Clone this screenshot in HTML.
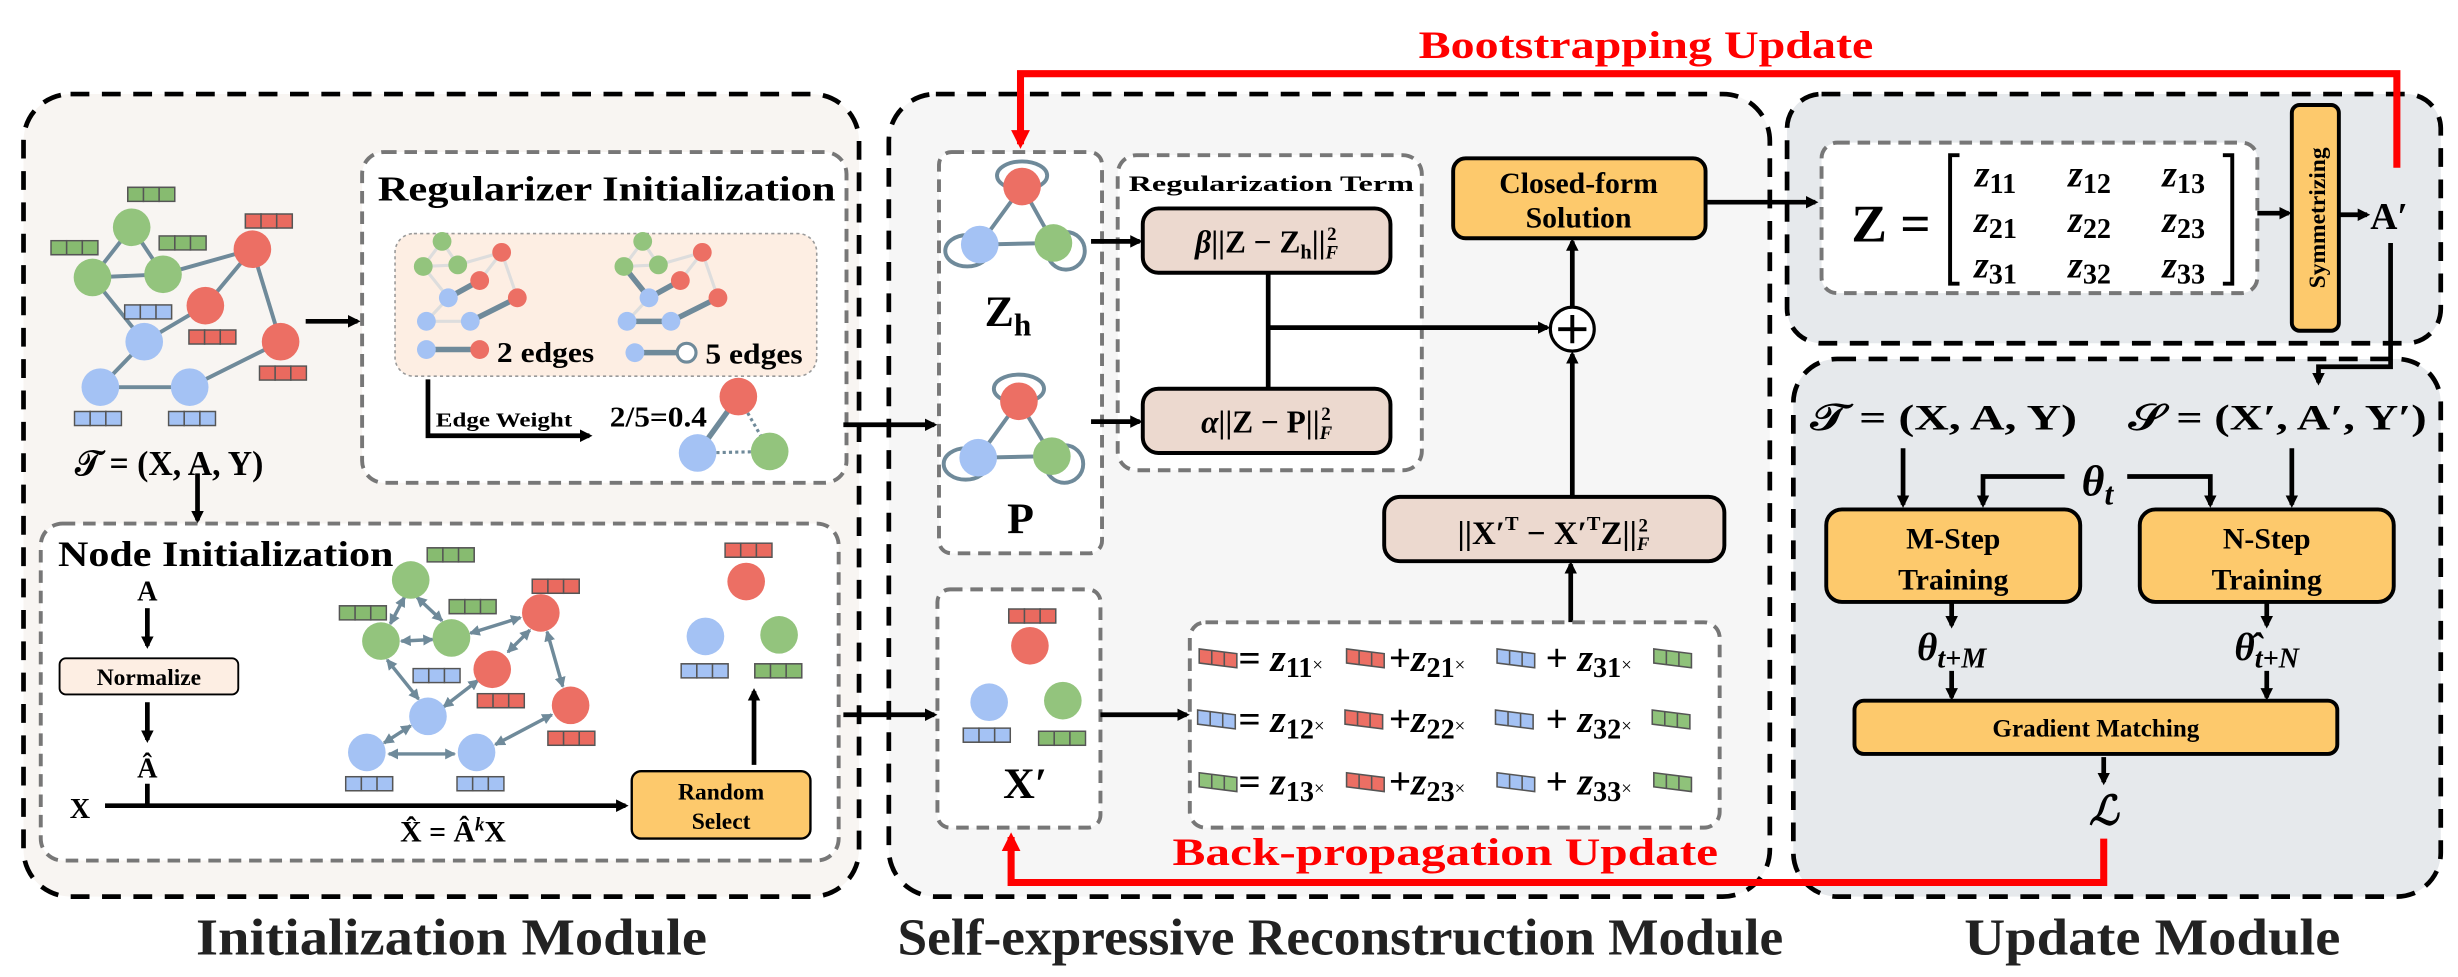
<!DOCTYPE html>
<html><head><meta charset="utf-8"><style>html,body{margin:0;padding:0;background:#fff}svg{display:block}text{font-family:"Liberation Serif",serif;font-weight:bold}</style></head>
<body>
<svg width="2458" height="977" viewBox="0 0 1568 623.3" preserveAspectRatio="none" xmlns="http://www.w3.org/2000/svg">
<defs>
<marker id="ah" markerWidth="8" markerHeight="8" refX="6" refY="4" orient="auto" markerUnits="userSpaceOnUse"><path d="M0,0 L8,4 L0,8 z" fill="#000"/></marker>
<marker id="ar" markerWidth="12" markerHeight="12" refX="9" refY="6" orient="auto" markerUnits="userSpaceOnUse"><path d="M0,0 L12,6 L0,12 z" fill="#f00"/></marker>
<marker id="ag" markerWidth="7" markerHeight="7" refX="6" refY="3.5" orient="auto-start-reverse" markerUnits="userSpaceOnUse"><path d="M0,0 L7,3.5 L0,7 z" fill="#6f8a9a"/></marker>
<symbol id="bg" viewBox="0 0 31 10" width="31" height="10"><rect x="0.5" y="0.5" width="30" height="9" fill="#87bb70" stroke="#555"/><line x1="10.5" y1="0" x2="10.5" y2="10" stroke="#555"/><line x1="20.5" y1="0" x2="20.5" y2="10" stroke="#555"/></symbol>
<symbol id="br" viewBox="0 0 31 10" width="31" height="10"><rect x="0.5" y="0.5" width="30" height="9" fill="#ea6a5f" stroke="#555"/><line x1="10.5" y1="0" x2="10.5" y2="10" stroke="#555"/><line x1="20.5" y1="0" x2="20.5" y2="10" stroke="#555"/></symbol>
<symbol id="bb" viewBox="0 0 31 10" width="31" height="10"><rect x="0.5" y="0.5" width="30" height="9" fill="#a4c2f4" stroke="#555"/><line x1="10.5" y1="0" x2="10.5" y2="10" stroke="#555"/><line x1="20.5" y1="0" x2="20.5" y2="10" stroke="#555"/></symbol>
<symbol id="sg" viewBox="0 0 26 14" width="26" height="14"><path d="M1,1 L25,4 L25,13 L1,10 z" fill="#8fc27a" stroke="#555"/><path d="M9,2 L9,11 M17,3 L17,12" stroke="#555"/></symbol>
<symbol id="sr" viewBox="0 0 26 14" width="26" height="14"><path d="M1,1 L25,4 L25,13 L1,10 z" fill="#ec6f64" stroke="#555"/><path d="M9,2 L9,11 M17,3 L17,12" stroke="#555"/></symbol>
<symbol id="sb" viewBox="0 0 26 14" width="26" height="14"><path d="M1,1 L25,4 L25,13 L1,10 z" fill="#a4c2f4" stroke="#555"/><path d="M9,2 L9,11 M17,3 L17,12" stroke="#555"/></symbol>
</defs>

<!-- Module boxes -->
<rect x="15" y="60" width="533" height="512" rx="30" fill="#f8f5f2" stroke="#000" stroke-width="3" stroke-dasharray="12,8"/>
<rect x="567" y="60" width="562" height="512" rx="30" fill="#f6f6f6" stroke="#000" stroke-width="3" stroke-dasharray="12,8"/>
<rect x="1140" y="60" width="417" height="159" rx="22" fill="#e6e9ec" stroke="#000" stroke-width="3" stroke-dasharray="12,8"/>
<rect x="1144" y="229" width="413" height="343" rx="28" fill="#e6e9ec" stroke="#000" stroke-width="3" stroke-dasharray="12,8"/>

<text x="288" y="609" font-size="33" text-anchor="middle" fill="#222" textLength="326" lengthAdjust="spacingAndGlyphs">Initialization Module</text>
<text x="855" y="609" font-size="33" text-anchor="middle" fill="#222" textLength="565" lengthAdjust="spacingAndGlyphs">Self-expressive Reconstruction Module</text>
<text x="1373" y="609" font-size="33" text-anchor="middle" fill="#222" textLength="240" lengthAdjust="spacingAndGlyphs">Update Module</text>

<!-- Red loops -->
<text x="1050" y="37" font-size="25" fill="#f00" text-anchor="middle" textLength="290" lengthAdjust="spacingAndGlyphs">Bootstrapping Update</text>
<polyline points="1529,107 1529,47 651,47 651,92" fill="none" stroke="#f00" stroke-width="4.5" marker-end="url(#ar)"/>
<text x="922" y="552" font-size="25" fill="#f00" text-anchor="middle" textLength="348" lengthAdjust="spacingAndGlyphs">Back-propagation Update</text>
<polyline points="1342,535 1342,563 645,563 645,534" fill="none" stroke="#f00" stroke-width="4.5" marker-end="url(#ar)"/>

<!-- ===== Initialization module ===== -->
<g stroke="#6f8a9a" stroke-width="2.5">
<line x1="84" y1="145" x2="59" y2="177"/><line x1="84" y1="145" x2="104" y2="175"/><line x1="59" y1="177" x2="104" y2="175"/>
<line x1="104" y1="175" x2="161" y2="159"/><line x1="59" y1="177" x2="92" y2="218"/><line x1="92" y1="218" x2="131" y2="195"/>
<line x1="131" y1="195" x2="161" y2="159"/><line x1="161" y1="159" x2="179" y2="218"/><line x1="179" y1="218" x2="121" y2="247"/>
<line x1="92" y1="218" x2="64" y2="247"/><line x1="64" y1="247" x2="121" y2="247"/>
</g>
<g>
<circle cx="84" cy="145" r="12" fill="#93c47d"/><circle cx="59" cy="177" r="12" fill="#93c47d"/><circle cx="104" cy="175" r="12" fill="#93c47d"/>
<circle cx="161" cy="159" r="12" fill="#ec6f64"/><circle cx="131" cy="195" r="12" fill="#ec6f64"/><circle cx="179" cy="218" r="12" fill="#ec6f64"/>
<circle cx="92" cy="218" r="12" fill="#a4c2f4"/><circle cx="64" cy="247" r="12" fill="#a4c2f4"/><circle cx="121" cy="247" r="12" fill="#a4c2f4"/>
</g>
<use href="#bg" x="81" y="119"/><use href="#bg" x="32" y="153"/><use href="#bg" x="101" y="150"/>
<use href="#br" x="156" y="136"/><use href="#bb" x="79" y="194"/><use href="#br" x="120" y="210"/>
<use href="#br" x="165" y="233"/><use href="#bb" x="47" y="262"/><use href="#bb" x="107" y="262"/>
<text x="108" y="303" font-size="22" text-anchor="middle" textLength="120" lengthAdjust="spacingAndGlyphs">𝒯 = (X, A, Y)</text>
<line x1="195" y1="205" x2="228" y2="205" stroke="#000" stroke-width="3" marker-end="url(#ah)"/>
<line x1="126" y1="302" x2="126" y2="332" stroke="#000" stroke-width="3" marker-end="url(#ah)"/>

<!-- Regularizer init -->
<rect x="231" y="97" width="309" height="211" rx="14" fill="#fff" stroke="#777" stroke-width="2.5" stroke-dasharray="8,5"/>
<text x="241" y="128" font-size="22" textLength="292" lengthAdjust="spacingAndGlyphs">Regularizer Initialization</text>
<rect x="252" y="149" width="269" height="91" rx="12" fill="#fdeee3" stroke="#999" stroke-width="1" stroke-dasharray="2,2"/>
<g stroke="#ddd" stroke-width="2" fill="none">
<path d="M282,154 L270,170 L292,169 Z M292,169 L320,161 L330,190 M270,170 L286,190 L272,205 L300,205 M306,179 L320,161"/>
<path d="M410,154 L398,170 L420,169 Z M420,169 L448,161 L458,190 M398,170 L414,190 L400,205 L428,205 M434,179 L448,161"/>
</g>
<g stroke="#6f8a9a" stroke-width="3.5">
<line x1="286" y1="190" x2="306" y2="179"/><line x1="300" y1="205" x2="330" y2="190"/>
<line x1="398" y1="170" x2="414" y2="190"/><line x1="414" y1="190" x2="434" y2="179"/><line x1="400" y1="205" x2="428" y2="205"/><line x1="428" y1="205" x2="458" y2="190"/>
<line x1="272" y1="223" x2="306" y2="223"/><line x1="405" y1="225" x2="438" y2="225"/>
</g>
<g>
<circle cx="282" cy="154" r="6" fill="#93c47d"/><circle cx="270" cy="170" r="6" fill="#93c47d"/><circle cx="292" cy="169" r="6" fill="#93c47d"/>
<circle cx="320" cy="161" r="6" fill="#ec6f64"/><circle cx="306" cy="179" r="6" fill="#ec6f64"/><circle cx="330" cy="190" r="6" fill="#ec6f64"/>
<circle cx="286" cy="190" r="6" fill="#a4c2f4"/><circle cx="272" cy="205" r="6" fill="#a4c2f4"/><circle cx="300" cy="205" r="6" fill="#a4c2f4"/>
<circle cx="410" cy="154" r="6" fill="#93c47d"/><circle cx="398" cy="170" r="6" fill="#93c47d"/><circle cx="420" cy="169" r="6" fill="#93c47d"/>
<circle cx="448" cy="161" r="6" fill="#ec6f64"/><circle cx="434" cy="179" r="6" fill="#ec6f64"/><circle cx="458" cy="190" r="6" fill="#ec6f64"/>
<circle cx="414" cy="190" r="6" fill="#a4c2f4"/><circle cx="400" cy="205" r="6" fill="#a4c2f4"/><circle cx="428" cy="205" r="6" fill="#a4c2f4"/>
<circle cx="272" cy="223" r="6" fill="#a4c2f4"/><circle cx="306" cy="223" r="6" fill="#ec6f64"/>
<circle cx="405" cy="225" r="6" fill="#a4c2f4"/><circle cx="438" cy="225" r="6" fill="#fff" stroke="#6f8a9a" stroke-width="2"/>
</g>
<text x="317" y="231" font-size="18" textLength="62" lengthAdjust="spacingAndGlyphs">2 edges</text>
<text x="450" y="232" font-size="18" textLength="62" lengthAdjust="spacingAndGlyphs">5 edges</text>
<polyline points="273,242 273,278 376,278" fill="none" stroke="#000" stroke-width="3" marker-end="url(#ah)"/>
<text x="278" y="272" font-size="13" textLength="87" lengthAdjust="spacingAndGlyphs">Edge Weight</text>
<text x="389" y="272" font-size="18" textLength="62" lengthAdjust="spacingAndGlyphs">2/5=0.4</text>
<line x1="445" y1="289" x2="471" y2="253" stroke="#6f8a9a" stroke-width="3.5"/>
<line x1="445" y1="289" x2="491" y2="288" stroke="#6f8a9a" stroke-width="2" stroke-dasharray="2,2"/>
<line x1="471" y1="253" x2="491" y2="288" stroke="#6f8a9a" stroke-width="2" stroke-dasharray="2,2"/>
<circle cx="471" cy="253" r="12" fill="#ec6f64"/><circle cx="445" cy="289" r="12" fill="#a4c2f4"/><circle cx="491" cy="288" r="12" fill="#93c47d"/>

<!-- Node init -->
<rect x="26" y="334" width="509" height="215" rx="14" fill="#fff" stroke="#777" stroke-width="2.5" stroke-dasharray="8,5"/>
<text x="37" y="361" font-size="23" textLength="214" lengthAdjust="spacingAndGlyphs">Node Initialization</text>
<text x="94" y="383" font-size="18" text-anchor="middle">A</text>
<line x1="94" y1="388" x2="94" y2="412" stroke="#000" stroke-width="3" marker-end="url(#ah)"/>
<rect x="38" y="420" width="114" height="23" rx="4" fill="#fdeee3" stroke="#000" stroke-width="1.2"/>
<text x="95" y="437" font-size="15" text-anchor="middle">Normalize</text>
<line x1="94" y1="448" x2="94" y2="472" stroke="#000" stroke-width="3" marker-end="url(#ah)"/>
<text x="94" y="496" font-size="18" text-anchor="middle">Â</text>
<line x1="94" y1="500" x2="94" y2="514" stroke="#000" stroke-width="3"/>
<text x="51" y="522" font-size="18" text-anchor="middle">X</text>
<line x1="67" y1="514" x2="399" y2="514" stroke="#000" stroke-width="3" marker-end="url(#ah)"/>
<text x="289" y="537" font-size="19" text-anchor="middle">X̂ = Â<tspan font-size="12" dy="-7" font-style="italic">k</tspan><tspan dy="7">X</tspan></text>
<rect x="403" y="492" width="114" height="43" rx="6" fill="#fdc96c" stroke="#000" stroke-width="1.5"/>
<text x="460" y="510" font-size="15" text-anchor="middle">Random</text>
<text x="460" y="529" font-size="15" text-anchor="middle">Select</text>
<line x1="481" y1="488" x2="481" y2="441" stroke="#000" stroke-width="3" marker-end="url(#ah)"/>
<circle cx="476" cy="371" r="12" fill="#ec6f64"/><use href="#br" x="462" y="346"/>
<circle cx="450" cy="406" r="12" fill="#a4c2f4"/><use href="#bb" x="434" y="423"/>
<circle cx="497" cy="405" r="12" fill="#93c47d"/><use href="#bg" x="481" y="423"/>
<g stroke="#6f8a9a" stroke-width="2.2" marker-start="url(#ag)" marker-end="url(#ag)">
<line x1="258" y1="381" x2="249" y2="398"/><line x1="266" y1="381" x2="282" y2="396"/>
<line x1="256" y1="409" x2="276" y2="408"/><line x1="300" y1="404" x2="332" y2="394"/>
<line x1="338" y1="402" x2="324" y2="416"/><line x1="349" y1="403" x2="359" y2="438"/>
<line x1="247" y1="421" x2="267" y2="446"/><line x1="283" y1="451" x2="305" y2="434"/>
<line x1="262" y1="463" x2="245" y2="474"/><line x1="248" y1="481" x2="290" y2="481"/>
<line x1="316" y1="475" x2="352" y2="456"/>
</g>
<circle cx="262" cy="370" r="12" fill="#93c47d"/><use href="#bg" x="272" y="349"/>
<circle cx="243" cy="409" r="12" fill="#93c47d"/><use href="#bg" x="216" y="386"/>
<circle cx="288" cy="407" r="12" fill="#93c47d"/><use href="#bg" x="286" y="382"/>
<circle cx="345" cy="391" r="12" fill="#ec6f64"/><use href="#br" x="339" y="369"/>
<circle cx="314" cy="427" r="12" fill="#ec6f64"/><use href="#br" x="304" y="442"/>
<circle cx="364" cy="450" r="12" fill="#ec6f64"/><use href="#br" x="349" y="466"/>
<circle cx="273" cy="457" r="12" fill="#a4c2f4"/><use href="#bb" x="263" y="426"/>
<circle cx="234" cy="480" r="12" fill="#a4c2f4"/><use href="#bb" x="220" y="495"/>
<circle cx="304" cy="480" r="12" fill="#a4c2f4"/><use href="#bb" x="291" y="495"/>

<line x1="538" y1="271" x2="596" y2="271" stroke="#000" stroke-width="3" marker-end="url(#ah)"/>
<line x1="538" y1="456" x2="596" y2="456" stroke="#000" stroke-width="3" marker-end="url(#ah)"/>

<!-- ===== Self-expressive module ===== -->
<rect x="599" y="97" width="104" height="256" rx="8" fill="#fff" stroke="#777" stroke-width="2.5" stroke-dasharray="8,5"/>
<g fill="none" stroke="#6f8a9a" stroke-width="2.5">
<path d="M625,156 L652,119 L672,155 Z"/>
<ellipse cx="652" cy="112" rx="16" ry="9"/><ellipse cx="617" cy="160" rx="14" ry="10"/><ellipse cx="680" cy="160" rx="12" ry="12"/>
<path d="M624,292 L650,256 L671,291 Z"/>
<ellipse cx="650" cy="248" rx="16" ry="9"/><ellipse cx="616" cy="296" rx="14" ry="10"/><ellipse cx="679" cy="296" rx="12" ry="12"/>
</g>
<circle cx="652" cy="119" r="12" fill="#ec6f64"/><circle cx="625" cy="156" r="12" fill="#a4c2f4"/><circle cx="672" cy="155" r="12" fill="#93c47d"/>
<circle cx="650" cy="256" r="12" fill="#ec6f64"/><circle cx="624" cy="292" r="12" fill="#a4c2f4"/><circle cx="671" cy="291" r="12" fill="#93c47d"/>
<text x="643" y="208" font-size="28" text-anchor="middle">Z<tspan font-size="20" dy="6">h</tspan></text>
<text x="651" y="340" font-size="28" text-anchor="middle">P</text>

<rect x="598" y="376" width="104" height="152" rx="8" fill="#fff" stroke="#777" stroke-width="2.5" stroke-dasharray="8,5"/>
<circle cx="657" cy="412" r="12" fill="#ec6f64"/><use href="#br" x="643" y="388"/>
<circle cx="631" cy="448" r="12" fill="#a4c2f4"/><use href="#bb" x="614" y="464"/>
<circle cx="678" cy="447" r="12" fill="#93c47d"/><use href="#bg" x="662" y="466"/>
<text x="654" y="509" font-size="28" text-anchor="middle">X′</text>

<rect x="713" y="99" width="194" height="201" rx="12" fill="#fff" stroke="#777" stroke-width="2.5" stroke-dasharray="8,5"/>
<text x="811" y="122" font-size="14" text-anchor="middle" textLength="182" lengthAdjust="spacingAndGlyphs">Regularization Term</text>
<rect x="729" y="133" width="158" height="41" rx="10" fill="#ecd9cf" stroke="#000" stroke-width="2.5"/>
<text x="808" y="161" font-size="20" text-anchor="middle"><tspan font-style="italic">β</tspan>||Z − Z<tspan font-size="13" dy="4">h</tspan><tspan dy="-4">||</tspan><tspan font-size="12" dy="4" font-style="italic">F</tspan><tspan font-size="12" dx="-7" dy="-12">2</tspan></text>
<rect x="729" y="248" width="158" height="41" rx="10" fill="#ecd9cf" stroke="#000" stroke-width="2.5"/>
<text x="808" y="276" font-size="20" text-anchor="middle"><tspan font-style="italic">α</tspan>||Z − P||<tspan font-size="12" dy="4" font-style="italic">F</tspan><tspan font-size="12" dx="-7" dy="-12">2</tspan></text>
<line x1="696" y1="154" x2="727" y2="154" stroke="#000" stroke-width="3" marker-end="url(#ah)"/>
<line x1="696" y1="269" x2="727" y2="269" stroke="#000" stroke-width="3" marker-end="url(#ah)"/>
<line x1="809" y1="174" x2="809" y2="248" stroke="#000" stroke-width="3"/>
<line x1="809" y1="209" x2="987" y2="209" stroke="#000" stroke-width="3" marker-end="url(#ah)"/>
<circle cx="1003" cy="210" r="14" fill="#fff" stroke="#000" stroke-width="2"/>
<path d="M994,210 H1012 M1003,201 V219" stroke="#000" stroke-width="2.5"/>
<rect x="927" y="101" width="161" height="51" rx="8" fill="#fdc96c" stroke="#000" stroke-width="2.5"/>
<text x="1007" y="123" font-size="19" text-anchor="middle">Closed-form</text>
<text x="1007" y="145" font-size="19" text-anchor="middle">Solution</text>
<line x1="1003" y1="196" x2="1003" y2="154" stroke="#000" stroke-width="3" marker-end="url(#ah)"/>
<rect x="883" y="317" width="217" height="41" rx="10" fill="#ecd9cf" stroke="#000" stroke-width="2.5"/>
<text x="991" y="347" font-size="21" text-anchor="middle">||X′<tspan font-size="13" dy="-9">T</tspan><tspan dy="9"> − X′</tspan><tspan font-size="13" dy="-9">T</tspan><tspan dy="9">Z||</tspan><tspan font-size="12" dy="4" font-style="italic">F</tspan><tspan font-size="12" dx="-7" dy="-12">2</tspan></text>
<line x1="1003" y1="317" x2="1003" y2="226" stroke="#000" stroke-width="3" marker-end="url(#ah)"/>
<line x1="1002" y1="397" x2="1002" y2="360" stroke="#000" stroke-width="3" marker-end="url(#ah)"/>

<rect x="759" y="397" width="338" height="131" rx="10" fill="#fff" stroke="#777" stroke-width="2.5" stroke-dasharray="8,5"/>
<line x1="702" y1="456" x2="757" y2="456" stroke="#000" stroke-width="3" marker-end="url(#ah)"/>
<g font-size="25">
<use href="#sr" x="764" y="413"/><text x="790" y="428">= <tspan font-style="italic">z</tspan><tspan font-size="18" dy="4">11</tspan><tspan font-size="12" font-weight="normal" dy="-4">×</tspan></text>
<use href="#sr" x="858" y="413"/><text x="886" y="428">+<tspan font-style="italic">z</tspan><tspan font-size="18" dy="4">21</tspan><tspan font-size="12" font-weight="normal" dy="-4">×</tspan></text>
<use href="#sb" x="954" y="413"/><text x="986" y="428">+ <tspan font-style="italic">z</tspan><tspan font-size="18" dy="4">31</tspan><tspan font-size="12" font-weight="normal" dy="-4">×</tspan></text>
<use href="#sg" x="1054" y="413"/>
<use href="#sb" x="763" y="452"/><text x="790" y="467">= <tspan font-style="italic">z</tspan><tspan font-size="18" dy="4">12</tspan><tspan font-size="12" font-weight="normal" dy="-4">×</tspan></text>
<use href="#sr" x="857" y="452"/><text x="886" y="467">+<tspan font-style="italic">z</tspan><tspan font-size="18" dy="4">22</tspan><tspan font-size="12" font-weight="normal" dy="-4">×</tspan></text>
<use href="#sb" x="953" y="452"/><text x="986" y="467">+ <tspan font-style="italic">z</tspan><tspan font-size="18" dy="4">32</tspan><tspan font-size="12" font-weight="normal" dy="-4">×</tspan></text>
<use href="#sg" x="1053" y="452"/>
<use href="#sg" x="764" y="492"/><text x="790" y="507">= <tspan font-style="italic">z</tspan><tspan font-size="18" dy="4">13</tspan><tspan font-size="12" font-weight="normal" dy="-4">×</tspan></text>
<use href="#sr" x="858" y="492"/><text x="886" y="507">+<tspan font-style="italic">z</tspan><tspan font-size="18" dy="4">23</tspan><tspan font-size="12" font-weight="normal" dy="-4">×</tspan></text>
<use href="#sb" x="954" y="492"/><text x="986" y="507">+ <tspan font-style="italic">z</tspan><tspan font-size="18" dy="4">33</tspan><tspan font-size="12" font-weight="normal" dy="-4">×</tspan></text>
<use href="#sg" x="1054" y="492"/>
</g>

<!-- ===== Update module ===== -->
<line x1="1088" y1="129" x2="1158" y2="129" stroke="#000" stroke-width="3" marker-end="url(#ah)"/>
<rect x="1162" y="91" width="278" height="96" rx="10" fill="#fff" stroke="#777" stroke-width="2.5" stroke-dasharray="8,5"/>
<text x="1181" y="154" font-size="34">Z =</text>
<path d="M1250,99 H1244 V181 H1250 M1418,99 H1424 V181 H1418" fill="none" stroke="#000" stroke-width="2.5"/>
<g font-size="24" font-style="italic" text-anchor="middle">
<text x="1273" y="119">z<tspan font-size="18" font-style="normal" dy="4">11</tspan></text><text x="1333" y="119">z<tspan font-size="18" font-style="normal" dy="4">12</tspan></text><text x="1393" y="119">z<tspan font-size="18" font-style="normal" dy="4">13</tspan></text>
<text x="1273" y="148">z<tspan font-size="18" font-style="normal" dy="4">21</tspan></text><text x="1333" y="148">z<tspan font-size="18" font-style="normal" dy="4">22</tspan></text><text x="1393" y="148">z<tspan font-size="18" font-style="normal" dy="4">23</tspan></text>
<text x="1273" y="177">z<tspan font-size="18" font-style="normal" dy="4">31</tspan></text><text x="1333" y="177">z<tspan font-size="18" font-style="normal" dy="4">32</tspan></text><text x="1393" y="177">z<tspan font-size="18" font-style="normal" dy="4">33</tspan></text>
</g>
<line x1="1440" y1="136" x2="1460" y2="136" stroke="#000" stroke-width="3" marker-end="url(#ah)"/>
<rect x="1462" y="67" width="30" height="144" rx="5" fill="#fdc96c" stroke="#000" stroke-width="2.5"/>
<text transform="translate(1483,139) rotate(-90)" font-size="15" font-weight="normal" text-anchor="middle">Symmetrizing</text>
<line x1="1492" y1="137" x2="1510" y2="137" stroke="#000" stroke-width="3" marker-end="url(#ah)"/>
<text x="1512" y="146" font-size="24">A′</text>
<polyline points="1525,155 1525,234 1479,234 1479,244" fill="none" stroke="#000" stroke-width="3" marker-end="url(#ah)"/>

<text x="1240" y="274" font-size="23" text-anchor="middle" textLength="170" lengthAdjust="spacingAndGlyphs">𝒯 = (X, A, Y)</text>
<text x="1453" y="274" font-size="23" text-anchor="middle" textLength="190" lengthAdjust="spacingAndGlyphs">𝒮 = (X′, A′, Y′)</text>
<line x1="1214" y1="286" x2="1214" y2="322" stroke="#000" stroke-width="3" marker-end="url(#ah)"/>
<line x1="1462" y1="286" x2="1462" y2="322" stroke="#000" stroke-width="3" marker-end="url(#ah)"/>
<text x="1338" y="316" font-size="28" font-style="italic" text-anchor="middle">θ<tspan font-size="20" dy="6">t</tspan></text>
<polyline points="1317,304 1265,304 1265,322" fill="none" stroke="#000" stroke-width="3" marker-end="url(#ah)"/>
<polyline points="1357,304 1410,304 1410,322" fill="none" stroke="#000" stroke-width="3" marker-end="url(#ah)"/>
<rect x="1165" y="325" width="162" height="59" rx="10" fill="#fdc96c" stroke="#000" stroke-width="2.5"/>
<text x="1246" y="350" font-size="19" text-anchor="middle">M-Step</text>
<text x="1246" y="376" font-size="19" text-anchor="middle">Training</text>
<rect x="1365" y="325" width="162" height="59" rx="10" fill="#fdc96c" stroke="#000" stroke-width="2.5"/>
<text x="1446" y="350" font-size="19" text-anchor="middle">N-Step</text>
<text x="1446" y="376" font-size="19" text-anchor="middle">Training</text>
<line x1="1245" y1="384" x2="1245" y2="399" stroke="#000" stroke-width="3" marker-end="url(#ah)"/>
<line x1="1446" y1="384" x2="1446" y2="399" stroke="#000" stroke-width="3" marker-end="url(#ah)"/>
<text x="1245" y="421" font-size="25" font-style="italic" text-anchor="middle">θ<tspan font-size="18" dy="5">t+M</tspan></text>
<text x="1446" y="421" font-size="25" font-style="italic" text-anchor="middle">θ̂<tspan font-size="18" dy="5">t+N</tspan></text>
<line x1="1245" y1="428" x2="1245" y2="445" stroke="#000" stroke-width="3" marker-end="url(#ah)"/>
<line x1="1446" y1="428" x2="1446" y2="445" stroke="#000" stroke-width="3" marker-end="url(#ah)"/>
<rect x="1183" y="447" width="308" height="34" rx="6" fill="#fdc96c" stroke="#000" stroke-width="2.5"/>
<text x="1337" y="470" font-size="16" text-anchor="middle">Gradient Matching</text>
<line x1="1342" y1="483" x2="1342" y2="499" stroke="#000" stroke-width="3" marker-end="url(#ah)"/>
<text x="1342" y="526" font-size="26" font-style="italic" text-anchor="middle">ℒ</text>
</svg>
</body></html>
